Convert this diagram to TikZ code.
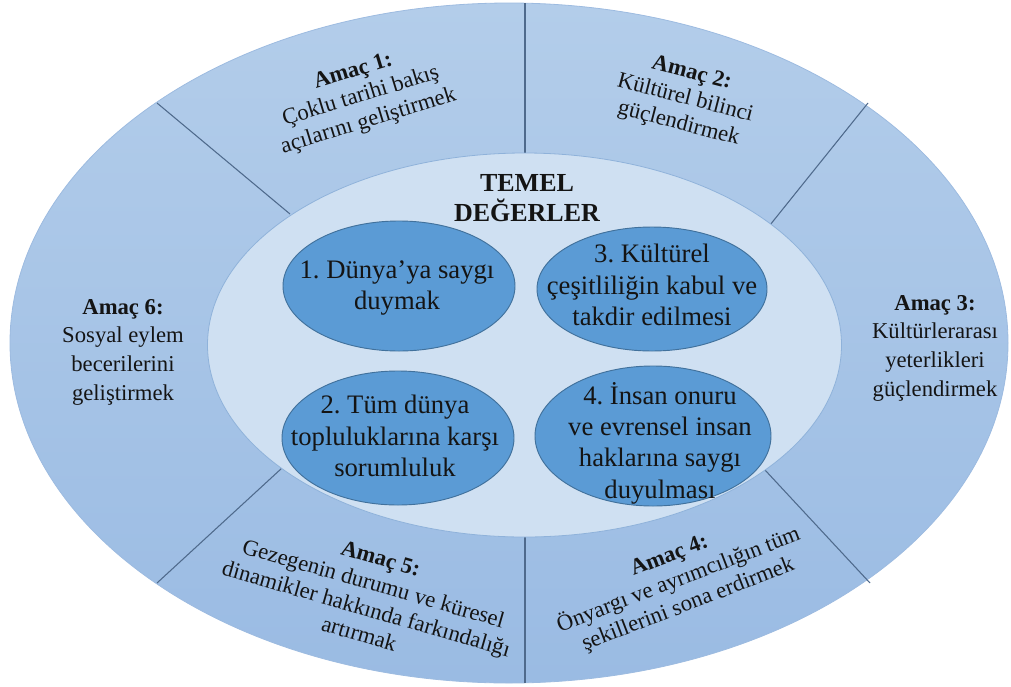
\documentclass[tikz,border=0pt]{standalone}
\usepackage{fontspec}
\setmainfont{Liberation Serif}
\newfontfamily\timesf{Liberation Serif}
\definecolor{ringtop}{HTML}{B3CDEA}
\definecolor{ringbot}{HTML}{9ABBE3}
\definecolor{ringline}{HTML}{9DBBE0}
\definecolor{innerfill}{HTML}{CFE0F2}
\definecolor{innerline}{HTML}{8FB2DA}
\definecolor{corefill}{HTML}{5B9BD5}
\definecolor{coreline}{HTML}{41719C}
\definecolor{divider}{HTML}{4F6A8C}
\definecolor{ink}{HTML}{141414}
\tikzset{
  goal/.style={align=center, inner sep=0pt, text=ink, font=\timesf\frenchspacing\fontsize{17}{21.5}\selectfont},
  goaltight/.style={goal, font=\timesf\frenchspacing\fontsize{17}{19.6}\selectfont},
  value/.style={align=center, inner sep=0pt, text=ink, font=\timesf\frenchspacing\fontsize{20}{23.5}\selectfont},
  core/.style={fill=corefill, draw=coreline, line width=0.7pt},
  divline/.style={draw=divider, line width=0.8pt}
}
\begin{document}
\begin{tikzpicture}[x=0.75pt,y=-0.75pt]
\useasboundingbox (0,0) rectangle (1011,686);
% outer ring
\shade[top color=ringtop, bottom color=ringbot] (509,343) ellipse [x radius=499, y radius=340];
\draw[ringline, line width=0.6pt] (509,343) ellipse [x radius=499, y radius=340];
% dividers
\coordinate (o1) at (525,3);   \coordinate (i1) at (525,160);
\coordinate (o2) at (157,103); \coordinate (i2) at (290,214);
\coordinate (o3) at (868,103); \coordinate (i3) at (770,225);
\coordinate (o4) at (870,583); \coordinate (i4) at (765,470);
\coordinate (o5) at (525,683); \coordinate (i5) at (525,530);
\coordinate (o6) at (157,583); \coordinate (i6) at (282,468);
\foreach \k in {1,...,6} { \draw[divline] (o\k) -- (i\k); }
% inner ellipse
\fill[innerfill] (524.5,345) ellipse [x radius=317, y radius=192];
\draw[innerline, line width=0.6pt] (524.5,345) ellipse [x radius=317, y radius=192];
% core ellipses
\path[core] (399,286) ellipse [x radius=116, y radius=65];
\path[core] (652,289) ellipse [x radius=115, y radius=62];
\path[core] (398,438) ellipse [x radius=116, y radius=67];
\path[core] (653,436) ellipse [x radius=118, y radius=70];
% texts
\node[value] (v1) at (397,288) {1. Dünya’ya saygı\\duymak};
\node[value] (v3) at (652,285) {3. Kültürel\\çeşitliliğin kabul ve\\takdir edilmesi};
\node[value] (v2) at (395,436) {2. Tüm dünya\\topluluklarına karşı\\sorumluluk};
\node[value] (v4) at (660,443) {4. İnsan onuru\\ve evrensel insan\\haklarına saygı\\duyulması};
\node[align=center, inner sep=0pt, text=ink, font=\timesf\fontsize{19.5}{22.5}\selectfont\bfseries] (tm) at (527,198) {TEMEL\\DEĞERLER};
\node[goaltight, rotate=17] (a1) at (361,97) {\textbf{Amaç 1:}\\Çoklu tarihi bakış\\açılarını geliştirmek};
\node[goaltight, rotate=-14.5] (a2) at (685,99) {\textbf{Amaç 2:}\\Kültürel bilinci\\güçlendirmek};
\node[goal] (a3) at (935,348) {\textbf{Amaç 3:}\\Kültürlerarası\\yeterlikleri\\güçlendirmek};
\node[goaltight, rotate=21] (a4) at (679,581) {\textbf{Amaç 4:}\\Önyargı ve ayrımcılığın tüm\\şekillerini sona erdirmek};
\node[goaltight, rotate=-16] (a5) at (370,596) {\textbf{Amaç 5:}\\Gezegenin durumu ve küresel\\dinamikler hakkında farkındalığı\\artırmak};
\node[goal] (a6) at (123,352) {\textbf{Amaç 6:}\\Sosyal eylem\\becerilerini\\geliştirmek};
\end{tikzpicture}
\end{document}
